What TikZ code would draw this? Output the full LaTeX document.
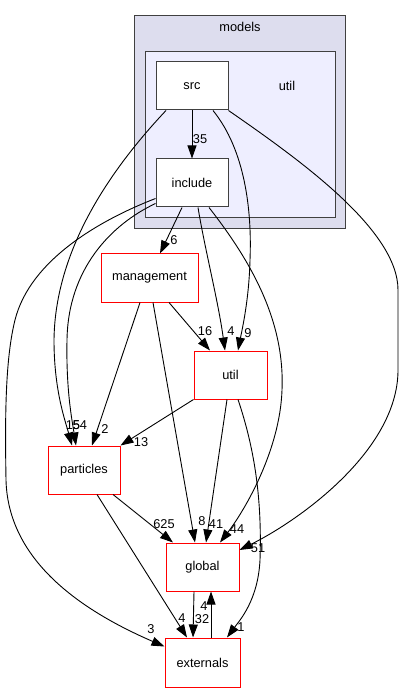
\documentclass[tikz,border=0pt]{standalone}
\usepackage{fontspec}
\setmainfont{Liberation Sans}
\usetikzlibrary{arrows.meta}
\definecolor{clouter}{HTML}{DDDDEE}
\definecolor{clinner}{HTML}{EEEEFF}
\definecolor{cborder}{HTML}{404040}
\begin{document}
\begin{tikzpicture}[x=1pt,y=-1pt,
  font=\fontsize{12.8}{14}\selectfont,
  cluster/.style={draw=cborder, line width=1pt, inner sep=0pt},
  dirbox/.style={draw=cborder, fill=white, line width=1pt, minimum width=72pt, minimum height=48pt, inner sep=0pt},
  extbox/.style={draw=red, fill=white, line width=1pt, minimum height=48pt, inner sep=0pt},
  edge/.style={draw=black, line width=0.9pt, -{Triangle[length=13pt,width=9pt]}},
  lbl/.style={inner sep=0pt, font=\fontsize{12.8}{14}\selectfont}]
\useasboundingbox (0,0) rectangle (404,692);
% clusters
\node[cluster, fill=clouter, minimum width=211pt, minimum height=213pt] (models) at (239.5,122.5) {};
\node[lbl] (modelslbl) at (240,27) {models};
\node[cluster, fill=clinner, minimum width=190pt, minimum height=166pt] (utilc) at (240,135) {};
\node[lbl] (utilclbl) at (287,86) {util};
% nodes
\node[dirbox] (src) at (192,86) {src};
\node[dirbox] (include) at (192,183) {include};
\node[extbox, minimum width=97pt] (management) at (149.5,278) {management};
\node[extbox, minimum width=73pt] (utilr) at (230.5,375) {util};
\node[extbox, minimum width=72pt] (particles) at (84,470) {particles};
\node[extbox, minimum width=73pt] (global) at (202.5,567) {global};
\node[extbox, minimum width=75pt, minimum height=49pt] (externals) at (202.5,662.5) {externals};
% edges
\draw[edge] (src.south) -- (include.north);
\node[lbl] (l35) at (200,139) {35};
\draw[edge] ([xshift=-26pt]src.south) .. controls (110,170) and (55,250) .. (54,340) .. controls (54,390) and (65,420) .. ([xshift=-12pt]particles.north);
\draw[edge] ([yshift=4pt]include.south west) .. controls (110,225) and (68,270) .. (67,340) .. controls (66,390) and (72,420) .. ([xshift=-8pt]particles.north);
\node[lbl] (l15) at (73,425) {15};
\node[lbl] (l54) at (80,425) {54};
\draw[edge] ([yshift=9pt]include.south west) .. controls (100,220) and (30,260) .. (15,320) .. controls (5,360) and (5,420) .. (6,480) .. controls (8,560) and (80,610) .. ([yshift=16pt]externals.west);
\node[lbl] (l3) at (151,629) {3};
\draw[edge] ([xshift=-9.5pt]management.south) -- ([xshift=8pt]particles.north);
\node[lbl] (l2) at (105,429) {2};
\draw[edge] (utilr.south west) -- (particles.north east);
\node[lbl] (l13) at (141,442) {13};
\draw[edge] ([xshift=-10pt]include.south) -- ([xshift=10.5pt]management.north);
\node[lbl] (l6) at (174,240) {6};
\draw[edge] ([xshift=6pt]include.south) .. controls (205,250) and (218,300) .. ([xshift=-5.5pt]utilr.north);
\node[lbl] (l4a) at (231,331) {4};
\draw[edge] ([xshift=21pt]src.south) .. controls (245,150) and (252,210) .. (250,260) .. controls (249,300) and (242,330) .. ([xshift=7.5pt]utilr.north);
\node[lbl] (l9) at (248,333) {9};
\draw[edge] ([xshift=19.5pt]management.south) -- ([xshift=-20.5pt]utilr.north);
\node[lbl] (l16) at (205,331) {16};
\draw[edge] ([xshift=3.5pt]management.south) -- ([xshift=-7.5pt]global.north);
\node[lbl] (l8) at (202,521) {8};
\draw[edge] ([xshift=-3.5pt]utilr.south) -- ([xshift=3.5pt]global.north);
\node[lbl] (l41) at (216,524) {41};
\draw[edge] ([xshift=7.5pt]utilr.south) .. controls (255,450) and (262,500) .. (260,560) .. controls (258,600) and (240,620) .. ([xshift=24.5pt]externals.north);
\node[lbl] (l1) at (241,627) {1};
\draw[edge] ([xshift=17pt]include.south) .. controls (250,260) and (285,320) .. (282,390) .. controls (280,450) and (245,510) .. ([xshift=17.5pt]global.north);
\node[lbl] (l44) at (237,529) {44};
\draw[edge] (src.south east) .. controls (300,160) and (398,230) .. (398,290) -- (398,370) .. controls (398,450) and (300,520) .. ([yshift=17pt]global.east);
\node[lbl] (l51) at (258,548) {51};
\draw[edge] ([xshift=29pt]particles.south) -- ([xshift=-29.5pt]global.north);
\node[lbl] (l625) at (164,524) {625};
\draw[edge] ([xshift=13pt]particles.south) -- ([xshift=-15.5pt]externals.north);
\node[lbl] (l4b) at (182,618) {4};
\draw[edge] ([xshift=-8.5pt]global.south) -- ([xshift=-9.5pt]externals.north);
\node[lbl] (l32) at (202,619) {32};
\draw[edge] ([xshift=8.5pt]externals.north) -- ([xshift=8.5pt]global.south);
\node[lbl] (l4c) at (204,606) {4};
\end{tikzpicture}
\end{document}
